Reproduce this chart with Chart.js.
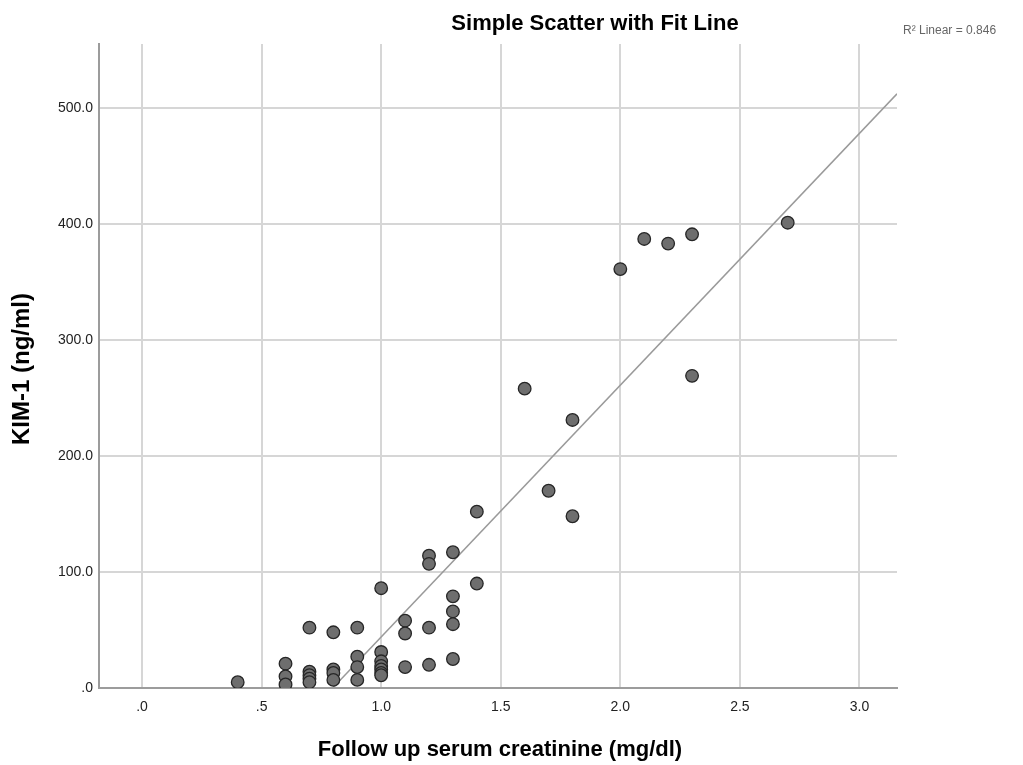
<!DOCTYPE html>
<html>
<head>
<meta charset="utf-8">
<script src="https://cdn.jsdelivr.net/npm/chart.js@4/dist/chart.umd.min.js"></script>
<style>
  html, body { margin: 0; padding: 0; background: #fff; }
  #wrap { width: 1023px; height: 765px; }
</style>
</head>
<body>
<div id="wrap"><canvas id="chart" width="1023" height="765"></canvas></div>
<script>
// valeurs
const creatinine = [
  0.4,
  0.6, 0.6, 0.6,
  0.7, 0.7, 0.7, 0.7, 0.7,
  0.8, 0.8, 0.8, 0.8,
  0.9, 0.9, 0.9, 0.9,
  1.0, 1.0, 1.0, 1.0, 1.0, 1.0, 1.0,
  1.1, 1.1, 1.1,
  1.2, 1.2, 1.2, 1.2,
  1.3, 1.3, 1.3, 1.3, 1.3,
  1.4, 1.4,
  1.6, 1.7, 1.8, 1.8,
  2.0, 2.1, 2.2, 2.3, 2.3, 2.7
];
const kim1 = [
  5,
  21, 10, 3,
  52, 14, 11, 8, 5,
  48, 16, 13, 7,
  52, 27, 18, 7,
  86, 31, 23, 19, 16, 13, 11,
  58, 47, 18,
  114, 107, 52, 20,
  117, 79, 66, 55, 25,
  152, 90,
  258, 170, 231, 148,
  361, 387, 383, 391, 269, 401
];
const xTicks = [0, 0.5, 1.0, 1.5, 2.0, 2.5, 3.0];
const yTicks = [0, 100, 200, 300, 400, 500];
const xRange = [-0.18, 3.157];
const yRange = [0, 555];
const fitSlope = 217;
const fitIntercept = -173;
const r2Label = 'R² Linear = 0.846';

const FONT = '"Liberation Sans", Arial, sans-serif';
const fmt = v => v.toFixed(1).replace(/^0/, '');

const points = creatinine.map((x, i) => ({ x: x, y: kim1[i] }));
const fitStart = -fitIntercept / fitSlope;
const fitLine = [fitStart, xRange[1]].map(x => ({ x: x, y: fitSlope * x + fitIntercept }));

// textes hors du cadre : titre, R², titres d'axes
const labelsPlugin = {
  id: 'labels',
  afterDraw(chart) {
    const ctx = chart.ctx;
    const a = chart.chartArea;
    ctx.save();
    ctx.fillStyle = '#000';
    ctx.textBaseline = 'middle';
    ctx.textAlign = 'center';
    ctx.font = 'bold 22px ' + FONT;
    ctx.fillText('Simple Scatter with Fit Line', 595, 24);

    ctx.font = '12px ' + FONT;
    ctx.fillStyle = '#666';
    ctx.textAlign = 'left';
    ctx.fillText(r2Label, 903, 31);

    ctx.fillStyle = '#000';
    ctx.textAlign = 'center';
    ctx.font = 'bold 22px ' + FONT;
    ctx.fillText('Follow up serum creatinine (mg/dl)', 500, 750);

    ctx.translate(22, (a.top + a.bottom) / 2 + 3);
    ctx.rotate(-Math.PI / 2);
    ctx.font = 'bold 24px ' + FONT;
    ctx.fillText('KIM-1 (ng/ml)', 0, 0);
    ctx.restore();
  }
};

new Chart(document.getElementById('chart'), {
  type: 'scatter',
  data: {
    datasets: [
      {
        type: 'line',
        data: fitLine,
        borderColor: '#9a9a9a',
        borderWidth: 1.5,
        pointRadius: 0,
        fill: false,
        order: 2
      },
      {
        data: points,
        backgroundColor: '#6e6e6e',
        borderColor: '#262626',
        borderWidth: 1.3,
        pointRadius: 6.3,
        order: 1
      }
    ]
  },
  options: {
    responsive: false,
    animation: false,
    layout: { padding: { top: 44, right: 126, left: 0, bottom: 0 } },
    plugins: {
      legend: { display: false },
      tooltip: { enabled: false }
    },
    scales: {
      x: {
        type: 'linear',
        min: xRange[0],
        max: xRange[1],
        afterBuildTicks: s => { s.ticks = xTicks.map(v => ({ value: v })); },
        afterFit: s => { s.height = 77; },
        grid: { color: '#d6d6d6', lineWidth: 2, drawTicks: false },
        border: { color: '#9c9c9c', width: 2 },
        ticks: {
          padding: 11,
          color: '#222',
          font: { family: FONT, size: 14 },
          callback: v => fmt(v)
        }
      },
      y: {
        min: yRange[0],
        max: yRange[1],
        afterBuildTicks: s => { s.ticks = yTicks.map(v => ({ value: v })); },
        afterFit: s => { s.width = 99; },
        grid: { color: '#d6d6d6', lineWidth: 2, drawTicks: false },
        border: { color: '#9c9c9c', width: 2 },
        ticks: {
          padding: 6,
          color: '#222',
          font: { family: FONT, size: 14 },
          callback: v => fmt(v)
        }
      }
    }
  },
  plugins: [labelsPlugin]
});
</script>
</body>
</html>
